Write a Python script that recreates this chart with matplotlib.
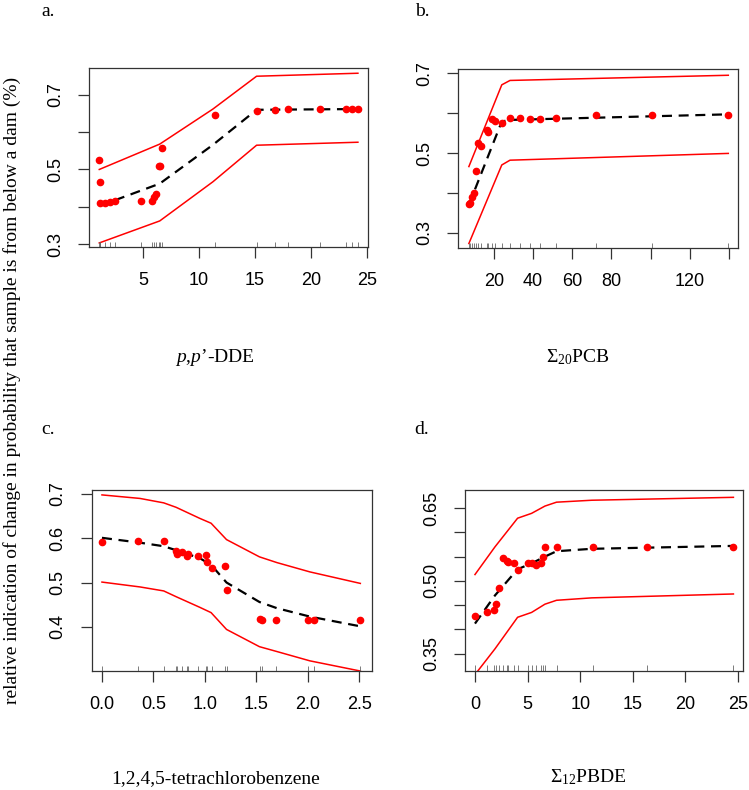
import matplotlib
matplotlib.use("Agg")
import matplotlib.pyplot as plt

plt.rcParams["font.family"] = "Liberation Sans"
plt.rcParams["mathtext.fontset"] = "custom"
plt.rcParams["mathtext.rm"] = "Liberation Serif"
plt.rcParams["mathtext.it"] = "Liberation Serif:italic"
plt.rcParams["mathtext.bf"] = "Liberation Serif:bold"

# ---- a. p,p'-DDE
a_x = [1.1, 1.19, 1.19, 1.64, 2.08, 2.5, 4.82, 5.8, 6.0, 6.13, 6.45, 6.55, 6.7,
       11.4, 15.18, 16.8, 18.0, 20.8, 23.1, 23.7, 24.2]
a_y = [0.525, 0.466, 0.41, 0.411, 0.413, 0.415, 0.416, 0.416, 0.426, 0.434, 0.509, 0.509, 0.557,
       0.646, 0.658, 0.66, 0.661, 0.662, 0.662, 0.662, 0.662]
a_kx = [1.1, 6.5, 11.25, 15.15, 24.2]
a_up = [0.50, 0.568, 0.662, 0.75, 0.758]
a_mid = [0.402, 0.462, 0.566, 0.66, 0.662]
a_lo = [0.303, 0.362, 0.467, 0.565, 0.573]

# ---- b. Sum20 PCB
b_x = [7.2, 7.7, 8.6, 9.6, 10.8, 12.0, 13.4, 16.3, 17.1, 18.8, 20.5, 24.1, 28.2,
       33.4, 38.2, 43.5, 51.7, 71.9, 100.5, 139.7]
b_y = [0.371, 0.375, 0.39, 0.40, 0.454, 0.524, 0.518, 0.558, 0.553, 0.585, 0.581, 0.575, 0.587,
       0.587, 0.586, 0.585, 0.589, 0.595, 0.595, 0.595]
b_kx = [7.2, 24.0, 28.2, 139.7]
b_up = [0.466, 0.671, 0.682, 0.695]
b_mid = [0.37, 0.579, 0.583, 0.597]
b_lo = [0.273, 0.47, 0.482, 0.499]

# ---- c. 1,2,4,5-tetrachlorobenzene
c_x = [0.0, 0.347, 0.6, 0.72, 0.73, 0.774, 0.823, 0.84, 0.933, 1.01, 1.02, 1.07,
       1.2, 1.21, 1.54, 1.55, 1.69, 2.0, 2.06, 2.51]
c_y = [0.592, 0.594, 0.594, 0.571, 0.564, 0.568, 0.561, 0.564, 0.56, 0.562, 0.547, 0.533,
       0.538, 0.482, 0.417, 0.415, 0.415, 0.415, 0.415, 0.415]
c_kx = [0.0, 0.37, 0.6, 0.72, 0.95, 1.06, 1.21, 1.53, 1.7, 2.02, 2.51]
c_up = [0.698, 0.69, 0.68, 0.67, 0.645, 0.634, 0.597, 0.558, 0.545, 0.524, 0.498]
c_mid = [0.601, 0.59, 0.582, 0.573, 0.555, 0.54, 0.50, 0.456, 0.442, 0.423, 0.401]
c_lo = [0.501, 0.49, 0.481, 0.468, 0.444, 0.432, 0.394, 0.355, 0.344, 0.323, 0.30]

# ---- d. Sum12 PBDE
d_x = [0.0, 1.17, 1.84, 2.0, 2.31, 2.69, 3.0, 3.16, 3.73, 4.05, 5.06, 5.38, 5.8,
       6.23, 6.42, 6.65, 7.75, 11.17, 16.36, 24.56]
d_y = [0.428, 0.436, 0.441, 0.453, 0.486, 0.548, 0.541, 0.539, 0.537, 0.522, 0.536, 0.536, 0.533,
       0.536, 0.55, 0.57, 0.57, 0.57, 0.57, 0.57]
d_kx = [0.0, 1.9, 4.05, 5.38, 6.65, 7.75, 11.1, 24.56]
d_up = [0.513, 0.57, 0.629, 0.639, 0.654, 0.662, 0.666, 0.672]
d_mid = [0.412, 0.47, 0.524, 0.536, 0.55, 0.561, 0.566, 0.572]
d_lo = [0.307, 0.36, 0.425, 0.435, 0.452, 0.46, 0.465, 0.473]

panels = [
    dict(rect=[0.1188, 0.6873, 0.3725, 0.2266], x=a_x, y=a_y, kx=a_kx, up=a_up, mid=a_mid, lo=a_lo,
         xlim=(0.18, 25.1), ylim=(0.292, 0.772),
         xt=[5, 10, 15, 20, 25], xtl=["5", "10", "15", "20", "25"],
         yt=[0.3, 0.4, 0.5, 0.6, 0.7], ytl=["0.3", "", "0.5", "", "0.7"],
         tag="a.", tagpos=(48, 11), label=r"$\mathit{p{,}p’}$-DDE", labpos=(215, 357)),
    dict(rect=[0.6119, 0.6857, 0.3738, 0.2266], x=b_x, y=b_y, kx=b_kx, up=b_up, mid=b_mid, lo=b_lo,
         xlim=(1.8, 144.8), ylim=(0.261, 0.71),
         xt=[20, 40, 60, 80, 100, 120, 140], xtl=["20", "40", "60", "80", "", "120", ""],
         yt=[0.3, 0.4, 0.5, 0.6, 0.7], ytl=["0.3", "", "0.5", "", "0.7"],
         tag="b.", tagpos=(422, 11), label=r"$\Sigma_{20}$PCB", labpos=(578, 357)),
    dict(rect=[0.1224, 0.1506, 0.3738, 0.2291], x=c_x, y=c_y, kx=c_kx, up=c_up, mid=c_mid, lo=c_lo,
         xlim=(-0.1, 2.62), ylim=(0.30, 0.709),
         xt=[0, 0.5, 1.0, 1.5, 2.0, 2.5], xtl=["0.0", "0.5", "1.0", "1.5", "2.0", "2.5"],
         yt=[0.4, 0.5, 0.6, 0.7], ytl=["0.4", "0.5", "0.6", "0.7"],
         tag="c.", tagpos=(48, 430), label="1,2,4,5-tetrachlorobenzene", labpos=(216, 779)),
    dict(rect=[0.6208, 0.1510, 0.3716, 0.2287], x=d_x, y=d_y, kx=d_kx, up=d_up, mid=d_mid, lo=d_lo,
         xlim=(-0.95, 25.5), ylim=(0.315, 0.687),
         xt=[0, 5, 10, 15, 20, 25], xtl=["0", "5", "10", "15", "20", "25"],
         yt=[0.35, 0.40, 0.45, 0.50, 0.55, 0.60, 0.65], ytl=["0.35", "", "", "0.50", "", "", "0.65"],
         tag="d.", tagpos=(422, 429), label=r"$\Sigma_{12}$PBDE", labpos=(588, 777)),
]

W, H = 749, 790
fig = plt.figure(figsize=(W / 100, H / 100), dpi=100)

for p in panels:
    ax = fig.add_axes(p["rect"])
    ax.plot(p["kx"], p["up"], color="red", lw=1.1)
    ax.plot(p["kx"], p["lo"], color="red", lw=1.1)
    ax.plot(p["kx"], p["mid"], color="black", lw=1.6, dashes=(4.5, 3))
    ax.plot(p["x"], p["y"], "o", color="red", ms=4.5, mec="red")
    # rug
    ax.vlines(p["x"], 0, 0.03, transform=ax.get_xaxis_transform(), color="#666666", lw=0.6)
    ax.set_xlim(p["xlim"])
    ax.set_ylim(p["ylim"])
    ax.set_xticks(p["xt"])
    ax.set_xticklabels(p["xtl"])
    ax.set_yticks(p["yt"])
    ax.set_yticklabels(p["ytl"], rotation=90, va="center")
    ax.tick_params(direction="out", length=8, width=0.9, color="#333333", labelsize=13, pad=10)
    for s in ax.spines.values():
        s.set_color("#333333")
        s.set_linewidth(0.9)
    fig.text(p["tagpos"][0] / W, 1 - p["tagpos"][1] / H, p["tag"], family="Liberation Serif",
             fontsize=14, ha="center", va="center")
    fig.text(p["labpos"][0] / W, 1 - p["labpos"][1] / H, p["label"], family="Liberation Serif",
             fontsize=14, ha="center", va="center")

fig.text(12 / W, 1 - 390 / H,
         "relative indication of change in probability that sample is from below a dam (%)",
         family="Liberation Serif", fontsize=14, rotation=90, ha="center", va="center")

fig.savefig("out.png", dpi=100)
